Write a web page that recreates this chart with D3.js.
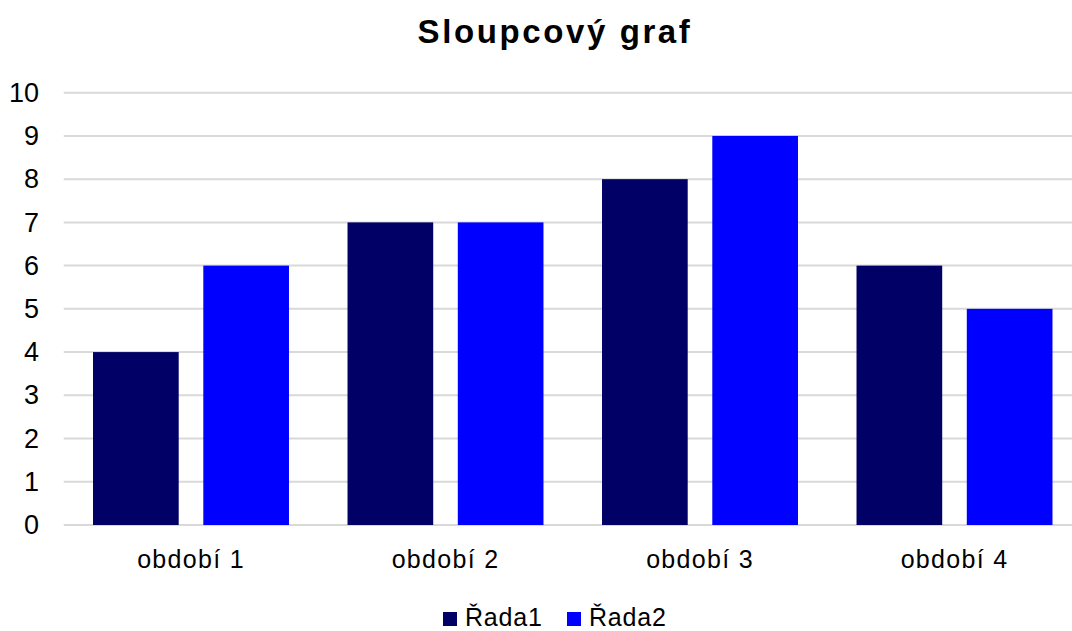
<!DOCTYPE html>
<html>
<head>
<meta charset="utf-8">
<script src="https://cdn.jsdelivr.net/npm/d3@7"></script>
<style>
  html, body { margin: 0; padding: 0; background: #fff; }
  svg { display: block; font-family: "Liberation Sans", Arial, sans-serif; }
</style>
</head>
<body>
<svg id="chart" width="1072" height="631"></svg>
<script>
const title = "Sloupcový graf";
const categories = ["období 1", "období 2", "období 3", "období 4"];
const seriesNames = ["Řada1", "Řada2"];
const series1 = [4, 7, 8, 6];
const series2 = [6, 7, 9, 5];
const yTicks = [0, 1, 2, 3, 4, 5, 6, 7, 8, 9, 10];
const colors = ["#000066", "#0000ff"];

(function () {
const svg = d3.select("#chart");
const W = 1072;
const pLeft = 63.75, pRight = 1081.75, pTop = 92.7, pBottom = 525;

const x0 = d3.scaleBand().domain(categories).range([pLeft, pRight]).paddingInner(0.23).paddingOuter(0.115);
const x1 = d3.scaleBand().domain(seriesNames).range([0, x0.bandwidth()]).paddingInner(0.223);
const y = d3.scaleLinear().domain([0, 10]).range([pBottom, pTop]);

// gridlines
svg.append("g").selectAll("line").data(yTicks).join("line")
  .attr("x1", pLeft).attr("x2", W)
  .attr("y1", d => y(d)).attr("y2", d => y(d))
  .attr("stroke", "#d9d9d9").attr("stroke-width", 2);

// y axis labels
const yAxis = d3.axisLeft(y).tickValues(yTicks).tickSize(0).tickPadding(0);
const gy = svg.append("g").attr("transform", "translate(39,0)").call(yAxis);
gy.select(".domain").remove();
gy.selectAll("text").attr("font-size", 27).attr("fill", "#000")
  .attr("font-family", "Liberation Sans, Arial, sans-serif");

// bars
const data = categories.map((c, i) => ({ cat: c, vals: [series1[i], series2[i]] }));
const groups = svg.append("g").selectAll("g").data(data).join("g")
  .attr("transform", d => `translate(${x0(d.cat)},0)`);
groups.selectAll("rect").data(d => d.vals.map((v, j) => ({ name: seriesNames[j], v, j })))
  .join("rect")
  .attr("x", d => x1(d.name))
  .attr("width", x1.bandwidth())
  .attr("y", d => y(d.v))
  .attr("height", d => y(0) - y(d.v))
  .attr("fill", d => colors[d.j]);

// x axis labels
const xAxis = d3.axisBottom(x0).tickSize(0).tickPadding(0);
const gx = svg.append("g").attr("transform", `translate(0,${pBottom})`).call(xAxis);
gx.select(".domain").remove();
gx.selectAll("text").attr("font-size", 25).attr("fill", "#000")
  .attr("dy", null).attr("y", 43).attr("letter-spacing", 1.3)
  .attr("font-family", "Liberation Sans, Arial, sans-serif");

// title
svg.append("text").attr("x", 555).attr("y", 43).attr("text-anchor", "middle")
  .attr("font-size", 33).attr("font-weight", "bold").attr("fill", "#000")
  .attr("letter-spacing", 2.6)
  .text(title);

// legend
const legX = [443, 567];
const leg = svg.append("g").selectAll("g").data(seriesNames).join("g")
  .attr("transform", (d, i) => `translate(${legX[i]},0)`);
leg.append("rect").attr("x", 0).attr("y", 612).attr("width", 14).attr("height", 14)
  .attr("fill", (d, i) => colors[i]);
leg.append("text").attr("x", 22).attr("y", 626).attr("font-size", 25).attr("fill", "#000")
  .attr("letter-spacing", 0.8)
  .text(d => d);
})();
</script>
</body>
</html>
